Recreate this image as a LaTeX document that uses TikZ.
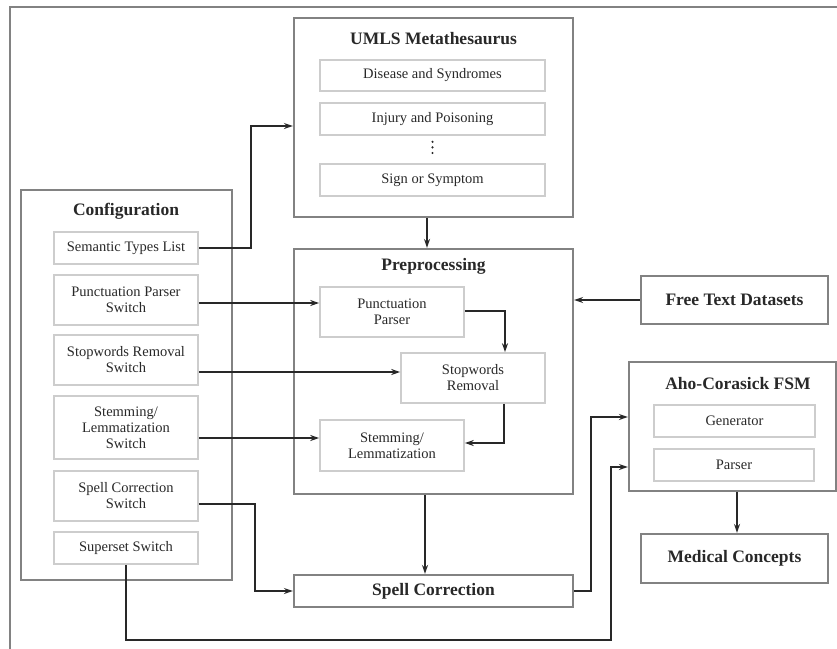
\documentclass[tikz,border=0pt]{standalone}
\usepackage{fontspec}
\setmainfont{Liberation Serif}
\usetikzlibrary{arrows.meta}

\definecolor{framegray}{RGB}{130,130,130}
\definecolor{innergray}{RGB}{205,205,205}
\definecolor{inkgray}{RGB}{40,40,40}

\begin{document}
\begin{tikzpicture}[x=1pt, y=-1pt,
    outbox/.style={draw=framegray, line width=2.2pt, minimum width=279pt, inner sep=0pt},
    inbox/.style={draw=innergray, line width=1.6pt, text=inkgray, align=center, inner sep=0pt,
      font=\fontsize{14.5}{16}\selectfont},
    ttl/.style={text=inkgray, font=\fontsize{17.5}{20}\selectfont\bfseries},
    arr/.style={draw=inkgray, line width=1.9pt, -{Stealth[length=9pt,width=6pt]}}]
  \useasboundingbox (0,0) rectangle (837,648);
  \draw[framegray, line width=2.2pt] (10,652) -- (10,7) -- (841,7);

  % UMLS
  \node[outbox, minimum height=199pt] (umls) at (433.5,117.5) {};
  \node[ttl] (umlst) at (433.5,39) {UMLS Metathesaurus};
  \node[inbox, minimum width=225pt, minimum height=31pt] (dis) at (432.5,75.5) {Disease and Syndromes};
  \node[inbox, minimum width=225pt, minimum height=32pt] (inj) at (432.5,119) {Injury and Poisoning};
  \node[inbox, minimum width=225pt, minimum height=32pt] (sign) at (432.5,180) {Sign or Symptom};
  \draw[inkgray, line width=2.4pt, line cap=round, dash pattern=on 0pt off 5.6pt] ([yshift=-6pt]inj.south) -- ([yshift=6pt]sign.north);

  % Preprocessing
  \node[outbox, minimum height=245pt] (prep) at (433.5,371.5) {};
  \node[ttl] (prept) at (433.5,266) {Preprocessing};
  \node[inbox, minimum width=144pt, minimum height=50pt] (punc) at (392,312) {Punctuation\\Parser};
  \node[inbox, minimum width=144pt, minimum height=50pt] (stop) at (473,378) {Stopwords\\Removal};
  \node[inbox, minimum width=144pt, minimum height=51pt] (stem) at (392,445.5) {Stemming/\\Lemmatization};

  \node[outbox, minimum height=32pt, font=\fontsize{17.5}{20}\selectfont\bfseries, text=inkgray] (spell) at (433.5,591) {Spell Correction};

  % right side
  \node[outbox, minimum width=187pt, minimum height=48pt, font=\fontsize{17.5}{20}\selectfont\bfseries, text=inkgray] (free) at (734.5,300) {Free Text Datasets};
  \node[outbox, minimum width=207pt, minimum height=129pt] (aho) at (732.5,426.5) {};
  \node[ttl] (ahot) at (738,384) {Aho-Corasick FSM};
  \node[inbox, minimum width=161pt, minimum height=32pt] (gen) at (734.5,421) {Generator};
  \node[inbox, minimum width=160pt, minimum height=32pt] (pars) at (734,465) {Parser};
  \node[outbox, minimum width=187pt, minimum height=49pt, font=\fontsize{17.5}{20}\selectfont\bfseries, text=inkgray] (med) at (734.5,558.5) {Medical Concepts};

  % Configuration
  \node[outbox, minimum width=211pt, minimum height=390pt] (conf) at (126.5,385) {};
  \node[ttl] (conft) at (126,211) {Configuration};
  \node[inbox, minimum width=144pt, minimum height=32pt] (semsw) at (126,248) {Semantic Types List};
  \node[inbox, minimum width=144pt, minimum height=50pt] (puncsw) at (126,300) {Punctuation Parser\\Switch};
  \node[inbox, minimum width=144pt, minimum height=50pt] (stopsw) at (126,360) {Stopwords Removal\\Switch};
  \node[inbox, minimum width=144pt, minimum height=63pt] (stemsw) at (126,427.5) {Stemming/\\Lemmatization\\Switch};
  \node[inbox, minimum width=144pt, minimum height=50pt] (spellsw) at (126,496) {Spell Correction\\Switch};
  \node[inbox, minimum width=144pt, minimum height=32pt] (supsw) at (126,548) {Superset Switch};

  % connectors
  \draw[arr] (semsw.east) -| (251,126) -- (umls.west |- 0,126);
  \draw[arr] (umls.south -| 427,0) -- (prep.north -| 427,0);
  \draw[arr] (free.west) -- (prep.east |- free.west);
  \draw[arr] (puncsw.east |- 0,303) -- (punc.west |- 0,303);
  \draw[arr] (stopsw.east |- 0,372) -- (stop.west |- 0,372);
  \draw[arr] (stemsw.east |- 0,438) -- (stem.west |- 0,438);
  \draw[arr] (punc.east |- 0,311) -| (stop.north -| 505,0);
  \draw[arr] (stop.south -| 504,0) |- (stem.east |- 0,443);
  \draw[arr] (prep.south -| 425,0) -- (spell.north -| 425,0);
  \draw[arr] (spellsw.east |- 0,504) -| (255,591) -- (spell.west);
  \draw[arr] (spell.east) -| (591,417) -- (aho.west |- 0,417);
  \draw[arr] (supsw.south) -- (126,640) -| (611,467) -- (aho.west |- 0,467);
  \draw[arr] (aho.south -| 737,0) -- (med.north -| 737,0);
\end{tikzpicture}
\end{document}
